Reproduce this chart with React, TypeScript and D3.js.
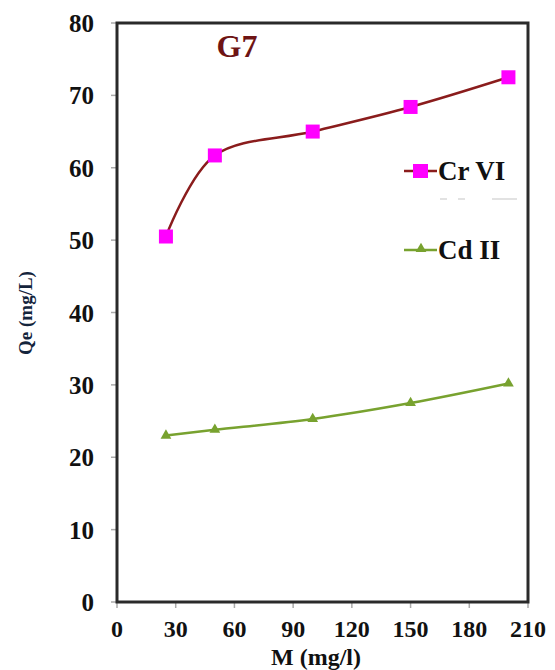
import * as d3 from "d3";
import React from "react";

// data
const doses = [25, 50, 100, 150, 200];
const crVI = [50.5, 61.7, 65, 68.4, 72.5];
const cdII = [23, 23.8, 25.3, 27.5, 30.2];
const xTicks = [0, 30, 60, 90, 120, 150, 180, 210];
const yTicks = [0, 10, 20, 30, 40, 50, 60, 70, 80];

const W = 555;
const H = 670;
const left = 117;
const right = 528;
const top = 23;
const bottom = 602;

const App = () => {
  const x = d3.scaleLinear().domain([0, 210]).range([left, right]);
  const y = d3.scaleLinear().domain([0, 80]).range([bottom, top]);

  const line = d3
    .line<number>()
    .x((d, i) => x(doses[i]))
    .y((d) => y(d))
    .curve(d3.curveCardinal);

  const font = "'Liberation Serif', 'Times New Roman', serif";
  const crColor = "#8a1c1c";
  const cdColor = "#78a22f";
  const tri = d3.symbol().type(d3.symbolTriangle).size(50)();

  return (
    <svg width={W} height={H} style={{ position: "absolute", left: 0, top: 0 }}>
      <rect width={W} height={H} fill="#fff" />
      {/* ticks */}
      {yTicks.map((t) => (
        <g key={"y" + t}>
          <line x1={left - 6} x2={left} y1={y(t)} y2={y(t)} stroke="#aaa" strokeWidth={1.5} />
          <text x={left - 23} y={y(t) + 9} textAnchor="end" fontFamily={font} fontWeight="bold" fontSize={25} fill="#111">
            {t}
          </text>
        </g>
      ))}
      {xTicks.map((t) => (
        <g key={"x" + t}>
          <line x1={x(t)} x2={x(t)} y1={bottom} y2={bottom + 6} stroke="#aaa" strokeWidth={1.5} />
          <text x={x(t)} y={bottom + 35} textAnchor="middle" fontFamily={font} fontWeight="bold" fontSize={24} fill="#111">
            {t}
          </text>
        </g>
      ))}
      {/* frame */}
      <rect x={left} y={top} width={right - left} height={bottom - top} fill="none" stroke="#2a2a2a" strokeWidth={3} />

      {/* series */}
      <path d={line(cdII) || ""} fill="none" stroke={cdColor} strokeWidth={2.5} />
      {cdII.map((v, i) => (
        <path key={"cd" + i} d={tri || ""} transform={`translate(${x(doses[i])},${y(v)})`} fill={cdColor} />
      ))}
      <path d={line(crVI) || ""} fill="none" stroke={crColor} strokeWidth={2.5} />
      {crVI.map((v, i) => (
        <rect key={"cr" + i} x={x(doses[i]) - 7} y={y(v) - 7} width={14} height={14} fill="#ff00ff" />
      ))}

      {/* title */}
      <text x={237} y={57} textAnchor="middle" fontFamily={font} fontWeight="bold" fontSize={32} fill="#6e1414">
        G7
      </text>

      {/* legend */}
      <line x1={404} x2={437} y1={171} y2={171} stroke={crColor} strokeWidth={2.5} />
      <rect x={413} y={164} width={15} height={14} fill="#ff00ff" />
      <text x={438} y={180} fontFamily={font} fontWeight="bold" fontSize={27} fill="#111">
        Cr VI
      </text>
      <g stroke="#d8d8d8" strokeWidth={1.5}>
        <line x1={440} x2={447} y1={199} y2={199} />
        <line x1={458} x2={465} y1={199} y2={199} />
        <line x1={492} x2={517} y1={199} y2={199} />
      </g>
      <line x1={404} x2={437} y1={250} y2={250} stroke={cdColor} strokeWidth={2.5} />
      <path d={tri || ""} transform="translate(421,249)" fill={cdColor} />
      <text x={438} y={259} fontFamily={font} fontWeight="bold" fontSize={27} fill="#111">
        Cd II
      </text>

      {/* axis titles */}
      <text
        transform={`translate(32,313) rotate(-90)`}
        textAnchor="middle"
        fontFamily={font}
        fontWeight="bold"
        fontSize={19}
        fill="#14243c"
      >
        Qe (mg/L)
      </text>
      <text x={316} y={665} textAnchor="middle" fontFamily={font} fontWeight="bold" fontSize={24} fill="#111">
        M (mg/l)
      </text>
    </svg>
  );
};

export default App;
